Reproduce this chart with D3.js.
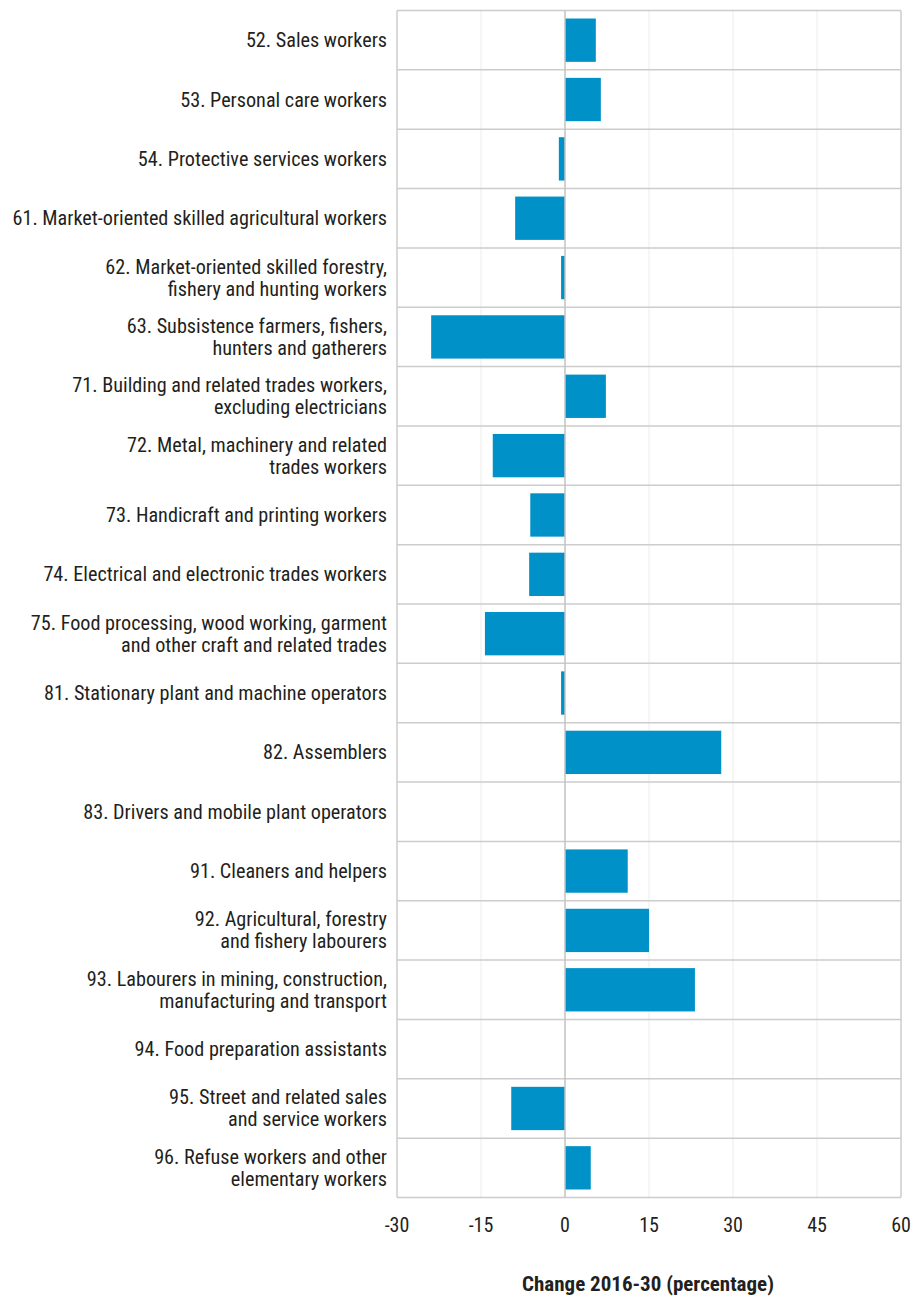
<!DOCTYPE html>
<html><head><meta charset="utf-8">
<script src="https://cdn.jsdelivr.net/npm/d3@7"></script>
<style>
body{margin:0;background:#fff;}
text{font-family:"Liberation Sans Narrow","Roboto Condensed",Roboto,sans-serif;fill:#231f20;}
</style></head><body>
<svg id="c" width="918" height="1298"></svg>
<script>
const categories = [
  ["52. Sales workers"],
  ["53. Personal care workers"],
  ["54. Protective services workers"],
  ["61. Market-oriented skilled agricultural workers"],
  ["62. Market-oriented skilled forestry,","fishery and hunting workers"],
  ["63. Subsistence farmers, fishers,","hunters and gatherers"],
  ["71. Building and related trades workers,","excluding electricians"],
  ["72. Metal, machinery and related","trades workers"],
  ["73. Handicraft and printing workers"],
  ["74. Electrical and electronic trades workers"],
  ["75. Food processing, wood working, garment","and other craft and related trades"],
  ["81. Stationary plant and machine operators"],
  ["82. Assemblers"],
  ["83. Drivers and mobile plant operators"],
  ["91. Cleaners and helpers"],
  ["92. Agricultural, forestry","and fishery labourers"],
  ["93. Labourers in mining, construction,","manufacturing and transport"],
  ["94. Food preparation assistants"],
  ["95. Street and related sales","and service workers"],
  ["96. Refuse workers and other","elementary workers"]
];
const values = [5.5, 6.4, -1.1, -8.9, -0.7, -23.9, 7.3, -12.9, -6.2, -6.4, -14.3, -0.7, 27.9, 0, 11.2, 15.0, 23.2, 0, -9.6, 4.6];
const ticks = [-30, -15, 0, 15, 30, 45, 60];
const axisTitle = "Change 2016-30 (percentage)";

(function(){
const svg = d3.select("#c");
const pL = 397, pR = 901, pT = 10.5, pB = 1197.5;
const x = d3.scaleLinear().domain([-30, 60]).range([pL, pR]);
const y = d3.scaleBand().domain(d3.range(categories.length)).range([pT, pB]).paddingInner(0.27).paddingOuter(0.135);
const step = (pB - pT) / categories.length;

svg.append("g").selectAll("line").data(ticks.filter(t => t !== 0 && t !== -30 && t !== 60)).join("line")
  .attr("x1", d => x(d)).attr("x2", d => x(d)).attr("y1", pT).attr("y2", pB)
  .attr("stroke", "#ececec").attr("stroke-width", 1);

svg.append("g").selectAll("line").data(d3.range(categories.length + 1)).join("line")
  .attr("x1", pL).attr("x2", pR)
  .attr("y1", i => pT + i * step).attr("y2", i => pT + i * step)
  .attr("stroke", "#cccccc").attr("stroke-width", 1.5);

svg.append("line").attr("x1", pL).attr("x2", pL).attr("y1", pT).attr("y2", pB).attr("stroke", "#cccccc").attr("stroke-width", 1.5);
svg.append("line").attr("x1", pR).attr("x2", pR).attr("y1", pT).attr("y2", pB).attr("stroke", "#cccccc").attr("stroke-width", 1.5);

svg.append("g").selectAll("rect").data(values).join("rect")
  .attr("x", d => x(Math.min(0, d)))
  .attr("width", d => Math.abs(x(d) - x(0)))
  .attr("y", (d, i) => y(i))
  .attr("height", y.bandwidth())
  .attr("fill", "#0091c8");

svg.append("line").attr("x1", x(0)).attr("x2", x(0)).attr("y1", pT).attr("y2", pB).attr("stroke", "#c2c2c2").attr("stroke-width", 1.5);

const lab = svg.append("g").selectAll("text").data(categories).join("text")
  .attr("text-anchor", "end").attr("font-size", 20.2)
  .attr("x", 387)
  .attr("y", (d, i) => y(i) + y.bandwidth() / 2);
lab.each(function(d) {
  const t = d3.select(this);
  const n = d.length;
  d.forEach((line, k) => {
    t.append("tspan").attr("x", 387)
      .attr("dy", k === 0 ? ((-(n - 1) * 22) / 2 + 7) + "px" : "22px")
      .text(line);
  });
});

svg.append("g").selectAll("text").data(ticks).join("text")
  .attr("x", d => x(d)).attr("y", 1232).attr("text-anchor", "middle").attr("font-size", 20)
  .text(d => d);

svg.append("text").attr("x", 648).attr("y", 1291).attr("text-anchor", "middle")
  .attr("font-size", 21).attr("font-weight", "bold").text(axisTitle);
})();
</script>
</body></html>
